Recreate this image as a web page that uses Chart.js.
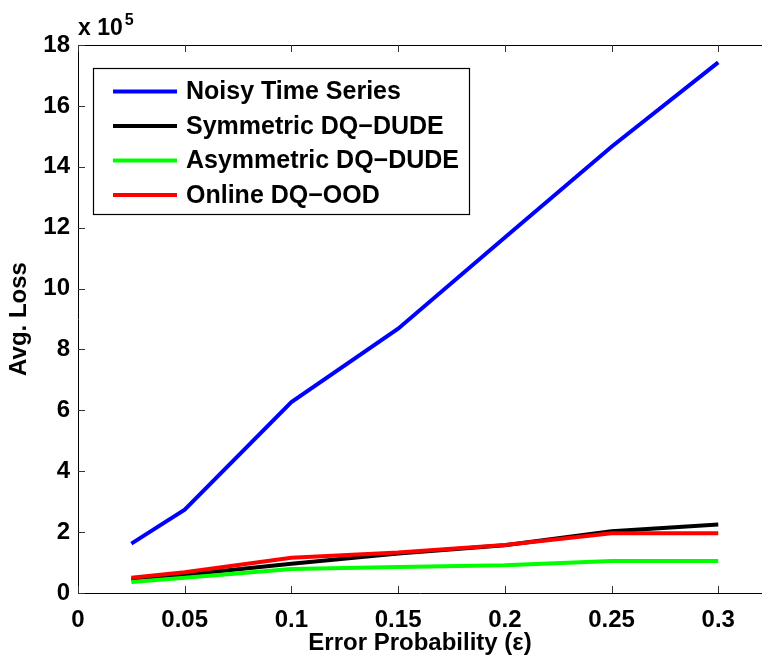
<!DOCTYPE html>
<html>
<head>
<meta charset="utf-8">
<script src="https://cdn.jsdelivr.net/npm/chart.js@4/dist/chart.umd.min.js"></script>
<style>
  html, body { margin: 0; padding: 0; background: #fff; }
  #wrap { width: 762px; height: 658px; }
</style>
</head>
<body>
<div id="wrap"><canvas id="c" width="762" height="658"></canvas></div>
<script>
// ---- data (values in units of 10^5) ----
const errorProb = [0.025, 0.05, 0.1, 0.15, 0.2, 0.25, 0.3];
const noisySeries = [1.62, 2.74, 6.27, 8.68, 11.68, 14.66, 17.43];
const symmetricDude = [0.45, 0.60, 0.96, 1.30, 1.57, 2.03, 2.25];
const asymmetricDude = [0.36, 0.50, 0.79, 0.85, 0.91, 1.05, 1.05];
const onlineOod = [0.50, 0.68, 1.16, 1.33, 1.58, 1.96, 1.96];
const seriesLabels = ['Noisy Time Series', 'Symmetric DQ\u2212DUDE', 'Asymmetric DQ\u2212DUDE', 'Online DQ\u2212OOD'];
const xTickValues = [0, 0.05, 0.1, 0.15, 0.2, 0.25, 0.3];
const yTickValues = [0, 2, 4, 6, 8, 10, 12, 14, 16, 18];
const xTickLabels = ['0', '0.05', '0.1', '0.15', '0.2', '0.25', '0.3'];
const yTickLabels = ['0', '2', '4', '6', '8', '10', '12', '14', '16', '18'];

const FONT = '"Liberation Sans", Arial, Helvetica, sans-serif';
const pts = arr => arr.map((v, i) => ({ x: errorProb[i], y: v }));

const colors = ['#0000ff', '#000000', '#00ff00', '#ff0000'];
const seriesData = [noisySeries, symmetricDude, asymmetricDude, onlineOod];

const datasets = seriesData.map((d, i) => ({
  label: seriesLabels[i],
  data: pts(d),
  borderColor: colors[i],
  backgroundColor: colors[i],
  borderWidth: 4,
  pointRadius: 0,
  tension: 0,
  fill: false,
  order: 4 - i
}));

const decorPlugin = {
  id: 'decor',
  afterDraw(chart) {
    const ctx = chart.ctx;
    const a = chart.chartArea;
    const xs = chart.scales.x, ys = chart.scales.y;
    ctx.save();
    // top border
    ctx.strokeStyle = '#000';
    ctx.lineWidth = 1;
    ctx.beginPath();
    ctx.moveTo(a.left, a.top + 0.5);
    ctx.lineTo(a.right, a.top + 0.5);
    ctx.stroke();
    // inward ticks
    ctx.strokeStyle = '#333';
    const tl = 7;
    xTickValues.forEach(v => {
      const px = Math.round(xs.getPixelForValue(v)) + 0.5;
      ctx.beginPath();
      ctx.moveTo(px, a.bottom); ctx.lineTo(px, a.bottom - tl);
      ctx.moveTo(px, a.top); ctx.lineTo(px, a.top + tl);
      ctx.stroke();
    });
    yTickValues.forEach(v => {
      const py = Math.round(ys.getPixelForValue(v)) + 0.5;
      ctx.beginPath();
      ctx.moveTo(a.left, py); ctx.lineTo(a.left + tl, py);
      ctx.stroke();
    });
    // exponent label
    ctx.fillStyle = '#000';
    ctx.textBaseline = 'alphabetic';
    ctx.textAlign = 'left';
    ctx.font = 'bold 23px ' + FONT;
    ctx.fillText('x 10', 78, 35);
    const w = ctx.measureText('x 10').width;
    ctx.font = 'bold 16px ' + FONT;
    ctx.fillText('5', 78 + w + 2, 25);
    // legend box
    const bx = 93, by = 68, bw = 376, bh = 146;
    ctx.fillStyle = '#fff';
    ctx.fillRect(bx, by, bw, bh);
    ctx.strokeStyle = '#000';
    ctx.lineWidth = 1.2;
    ctx.strokeRect(bx + 0.5, by + 0.5, bw, bh);
    ctx.font = 'bold 25px ' + FONT;
    ctx.textBaseline = 'middle';
    chart.data.datasets.forEach((ds, i) => {
      const cy = 91.5 + i * 34.5;
      ctx.strokeStyle = ds.borderColor;
      ctx.lineWidth = 4;
      ctx.beginPath();
      ctx.moveTo(113, cy); ctx.lineTo(177, cy);
      ctx.stroke();
      ctx.fillStyle = '#000';
      ctx.fillText(ds.label, 186, cy + 1);
    });
    ctx.restore();
  }
};

new Chart(document.getElementById('c'), {
  type: 'line',
  data: { datasets },
  options: {
    responsive: false,
    animation: false,
    layout: { padding: { top: 45, right: 0, left: 0, bottom: 0 } },
    plugins: { legend: { display: false }, tooltip: { enabled: false } },
    scales: {
      x: {
        type: 'linear',
        min: 0,
        max: 0.3205,
        afterBuildTicks: s => { s.ticks = xTickValues.map(v => ({ value: v })); },
        afterFit: s => { s.height = 65; },
        grid: { display: false, drawTicks: false },
        border: { display: true, color: '#000', width: 1 },
        ticks: {
          color: '#000',
          font: { family: FONT, size: 24, weight: 'bold' },
          padding: 13,
          maxRotation: 0,
          autoSkip: false,
          callback: (v) => { const k = xTickValues.indexOf(v); return k >= 0 ? xTickLabels[k] : ''; }
        },
        title: {
          display: true,
          text: 'Error Probability (\u03b5)',
          color: '#000',
          font: { family: FONT, size: 24, weight: 'bold' },
          padding: { top: 0, bottom: 0 }
        }
      },
      y: {
        type: 'linear',
        min: 0,
        max: 18,
        afterBuildTicks: s => { s.ticks = yTickValues.map(v => ({ value: v })); },
        afterFit: s => { s.width = 78; },
        grid: { display: false, drawTicks: false },
        border: { display: true, color: '#000', width: 1 },
        ticks: {
          color: '#000',
          font: { family: FONT, size: 24, weight: 'bold' },
          padding: 8,
          autoSkip: false,
          callback: (v) => { const k = yTickValues.indexOf(v); return k >= 0 ? yTickLabels[k] : ''; }
        },
        title: {
          display: true,
          text: 'Avg. Loss',
          color: '#000',
          font: { family: FONT, size: 24, weight: 'bold' },
          padding: { top: 5, bottom: 0 }
        }
      }
    }
  },
  plugins: [decorPlugin]
});
</script>
</body>
</html>
